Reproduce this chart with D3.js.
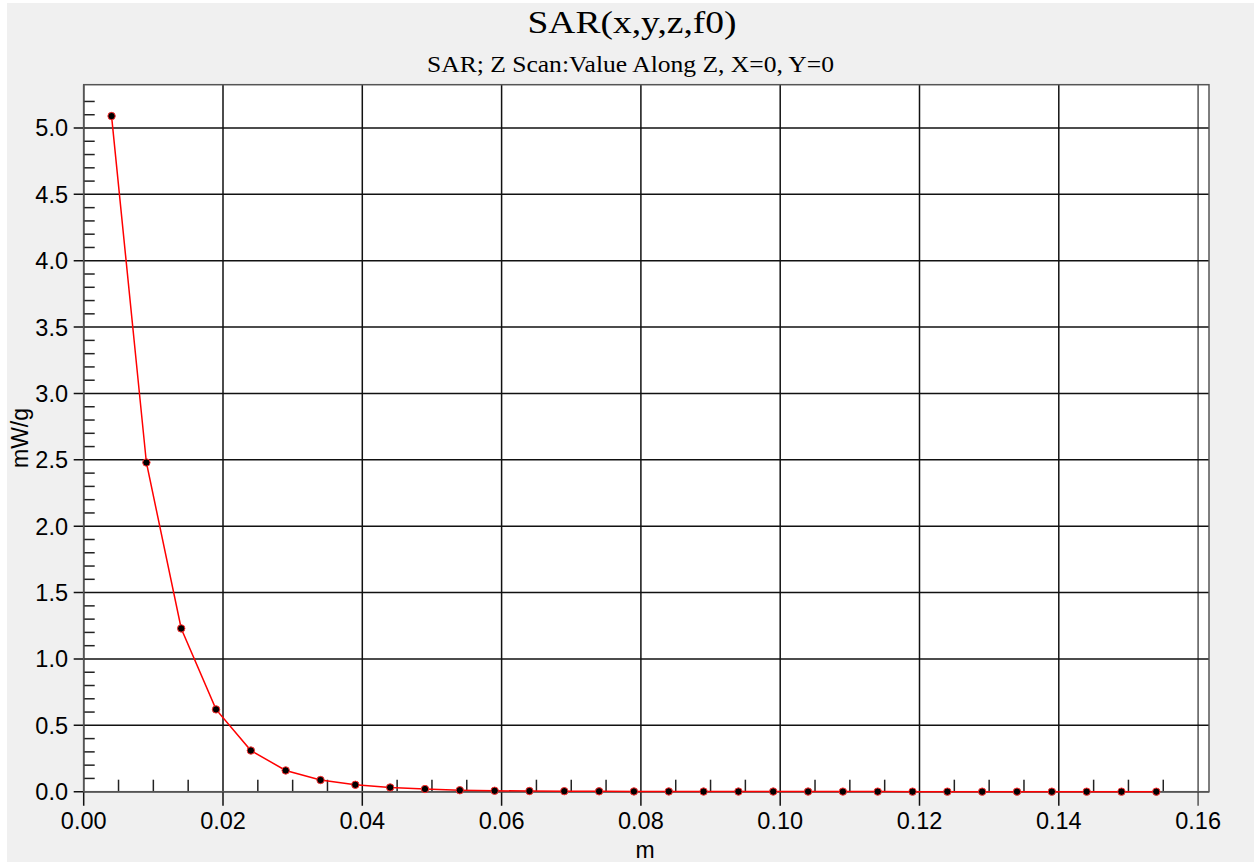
<!DOCTYPE html>
<html><head><meta charset="utf-8">
<script src="https://cdn.jsdelivr.net/npm/d3@7"></script>
<style>body{margin:0;background:#fff;}svg{display:block;}</style>
</head><body>
<svg id="chart" width="1254" height="862"></svg>
<script>
const zValues = [0.004,0.009,0.014,0.019,0.024,0.029,0.034,0.039,0.044,0.049,0.054,0.059,0.064,0.069,0.074,0.079,0.084,0.089,0.094,0.099,0.104,0.109,0.114,0.119,0.124,0.129,0.134,0.139,0.144,0.149,0.154];
const sarValues = [5.09,2.48,1.23,0.62,0.31,0.16,0.088,0.052,0.032,0.020,0.011,0.007,0.005,0.004,0.003,0.002,0.002,0.001,0.001,0.001,0.001,0.0008,0.0006,0.0005,0.0004,0.0003,0.0003,0.0002,0.0002,0.0002,0.0001];
const xTicks = [0,0.02,0.04,0.06,0.08,0.10,0.12,0.14,0.16];
const xTickLabels = ["0.00","0.02","0.04","0.06","0.08","0.10","0.12","0.14","0.16"];
const yTicks = [0,0.5,1.0,1.5,2.0,2.5,3.0,3.5,4.0,4.5,5.0];
const yTickLabels = ["0.0","0.5","1.0","1.5","2.0","2.5","3.0","3.5","4.0","4.5","5.0"];
const titleText = "SAR(x,y,z,f0)";
const subtitleText = "SAR; Z Scan:Value Along Z, X=0, Y=0";
const xLabel = "m";
const yLabel = "mW/g";

const svg = d3.select("#chart");
svg.append("rect").attr("x",7).attr("y",3).attr("width",1247).attr("height",859).attr("fill","#f0f0f0");

const L=83.7, R=1209, T=84.7, B=791.7;
const x = d3.scaleLinear().domain([0, (R-L)/6965]).range([L,R]);
const y = d3.scaleLinear().domain([0, (B-T)/132.74]).range([B,T]);

svg.append("rect").attr("x",L).attr("y",T).attr("width",R-L).attr("height",B-T).attr("fill","#fff");

// gridlines
const g = svg.append("g");
g.selectAll(".vg").data(xTicks).join("line")
  .attr("x1",d=>x(d)).attr("x2",d=>x(d)).attr("y1",T).attr("y2",B+14)
  .attr("stroke",(d,i)=>i===xTicks.length-1?"#555":"#111").attr("stroke-width",1.5);
g.selectAll(".hg").data(yTicks).join("line")
  .attr("x1",L-10).attr("x2",R).attr("y1",d=>y(d)).attr("y2",d=>y(d))
  .attr("stroke","#111").attr("stroke-width",1.5);

// minor ticks
const xMinor = d3.range(1,33).map(i=>i*0.005).filter((d,i)=>(i+1)%4!==0 && d<0.1616);
g.selectAll(".xm").data(xMinor).join("line")
  .attr("x1",d=>x(d)).attr("x2",d=>x(d)).attr("y1",B).attr("y2",B-12)
  .attr("stroke","#222").attr("stroke-width",1.5);
const yMinor = d3.range(1,53).map(i=>i/10).filter((d,i)=>(i+1)%5!==0);
g.selectAll(".ym").data(yMinor).join("line")
  .attr("x1",L).attr("x2",L+11).attr("y1",d=>y(d)).attr("y2",d=>y(d))
  .attr("stroke","#222").attr("stroke-width",1.5);

// border
svg.append("rect").attr("x",L).attr("y",T).attr("width",R-L).attr("height",B-T)
  .attr("fill","none").attr("stroke","#555").attr("stroke-width",1.5);

// tick labels
svg.selectAll(".xl").data(xTicks).join("text")
  .attr("x",d=>x(d)).attr("y",829).attr("text-anchor","middle")
  .attr("font-family","Liberation Sans, Arial, sans-serif").attr("font-size",23.5).attr("fill","#000")
  .text((d,i)=>xTickLabels[i]);
svg.selectAll(".yl").data(yTicks).join("text")
  .attr("x",68).attr("y",d=>y(d)).attr("dy","0.36em").attr("text-anchor","end")
  .attr("font-family","Liberation Sans, Arial, sans-serif").attr("font-size",23.5).attr("fill","#000")
  .text((d,i)=>yTickLabels[i]);

// line + points
const data = zValues.map((z,i)=>({z, v:sarValues[i]}));
svg.append("path").datum(data)
  .attr("d", d3.line().x(d=>x(d.z)).y(d=>y(d.v)))
  .attr("fill","none").attr("stroke","#ff0000").attr("stroke-width",1.5);
svg.selectAll(".pt").data(data).join("circle")
  .attr("cx",d=>x(d.z)).attr("cy",d=>y(d.v)).attr("r",3.7)
  .attr("fill","#000").attr("stroke","#ff3030").attr("stroke-width",1);

// titles
svg.append("text").attr("x",632).attr("y",33).attr("text-anchor","middle")
  .attr("font-family","Liberation Serif, Times New Roman, serif").attr("font-size",32)
  .attr("textLength",209).attr("lengthAdjust","spacingAndGlyphs").attr("fill","#000")
  .text(titleText);
svg.append("text").attr("x",630.5).attr("y",72).attr("text-anchor","middle")
  .attr("font-family","Liberation Serif, Times New Roman, serif").attr("font-size",24)
  .attr("textLength",407).attr("lengthAdjust","spacingAndGlyphs").attr("fill","#000")
  .text(subtitleText);
svg.append("text").attr("x",645).attr("y",858).attr("text-anchor","middle")
  .attr("font-family","Liberation Sans, Arial, sans-serif").attr("font-size",23).attr("fill","#000")
  .text(xLabel);
svg.append("text").attr("transform","translate(28,438) rotate(-90)").attr("text-anchor","middle")
  .attr("font-family","Liberation Sans, Arial, sans-serif").attr("font-size",23).attr("fill","#000")
  .text(yLabel);
</script>
</body></html>
